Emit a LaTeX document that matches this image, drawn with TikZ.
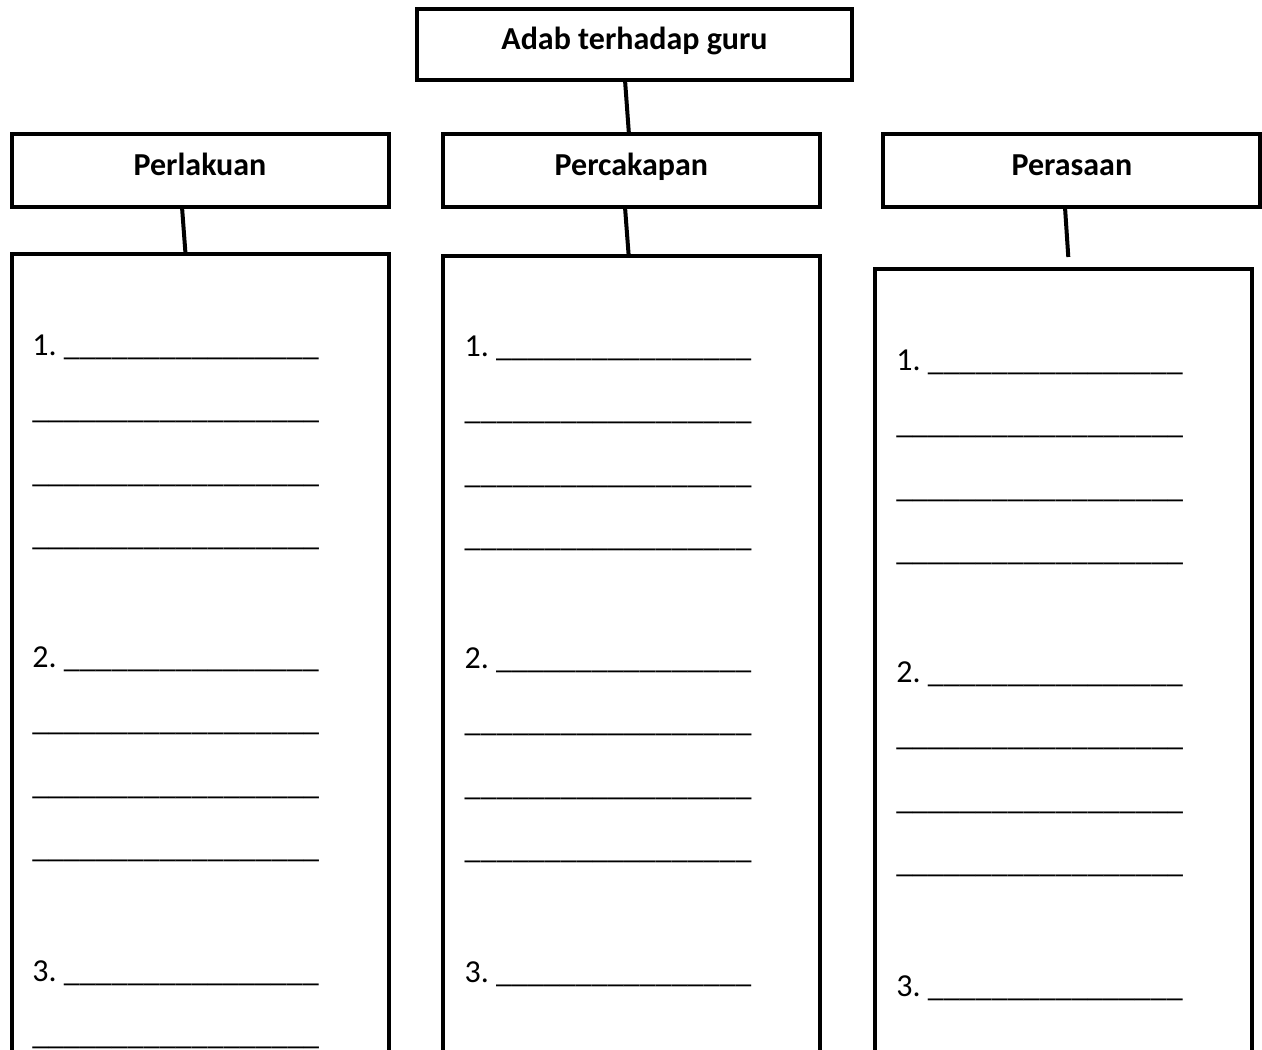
\documentclass[tikz,border=0pt]{standalone}
\usepackage{fontspec}
\setmainfont{Carlito}
\begin{document}
\begin{tikzpicture}[x=1pt,y=-1pt,
  box/.style={draw, line width=4pt, outer sep=0pt, inner sep=0pt},
  head/.style={box, minimum width=377pt, minimum height=73.5pt,
    font=\fontsize{32}{38}\selectfont\bfseries, text height=20pt, text depth=10pt},
  listbox/.style={box, minimum width=377pt, minimum height=1000pt},
  entry/.style={anchor=base west, inner sep=0pt, outer sep=0pt,
    font=\fontsize{32}{38}\selectfont},
  link/.style={line width=4pt}]
\useasboundingbox (0,0) rectangle (1262,1050);
\clip (0,0) rectangle (1262,1050);

% title
\node[box, minimum width=435pt, minimum height=71.3pt,
  font=\fontsize{32}{38}\selectfont\bfseries, text height=20pt, text depth=10pt]
  (top) at (634.5,44.3) {Adab terhadap guru};

% headers
\node[head] (hL) at (200,170.25) {Perlakuan};
\node[head] (hM) at (631.4,170.25) {Percakapan};
\node[head] (hR) at (1071.9,170.4) {Perasaan};

% list boxes
\node[listbox] (lL) at (200,753.7) {};
\node[listbox] (lM) at (631.4,756) {};
\node[listbox] (lR) at (1063.7,768.7) {};

% connectors
\coordinate (rEnd) at (1068.3,257);
\draw[link] ([xshift=-9.5pt]top.south) -- ([xshift=-2.5pt]hM.north);
\draw[link] ([xshift=-18pt]hL.south) -- ([xshift=-14.5pt]lL.north);
\draw[link] ([xshift=-6.4pt]hM.south) -- ([xshift=-2.7pt]lM.north);
\draw[link] ([xshift=-6.9pt]hR.south) -- (rEnd);

% entries
\def\numline#1{#1.\ \_\_\_\_\_\_\_\_\_\_\_\_\_\_\_\_}
\def\plainline{\_\_\_\_\_\_\_\_\_\_\_\_\_\_\_\_\_\_}
\foreach \col/\x/\dy in {L/32.3/0, M/464.7/1, R/896.3/15} {
  \node[entry] (\col n1) at (\x,355+\dy) {\numline{1}};
  \node[entry] (\col a1) at (\x,418.5+\dy) {\plainline};
  \node[entry] (\col b1) at (\x,482+\dy) {\plainline};
  \node[entry] (\col c1) at (\x,545.5+\dy) {\plainline};
  \node[entry] (\col n2) at (\x,667+\dy) {\numline{2}};
  \node[entry] (\col a2) at (\x,730.5+\dy) {\plainline};
  \node[entry] (\col b2) at (\x,794+\dy) {\plainline};
  \node[entry] (\col c2) at (\x,857.5+\dy) {\plainline};
  \node[entry] (\col n3) at (\x,981+\dy) {\numline{3}};
}
\node[entry] (La3) at (32.3,1044) {\plainline};
\end{tikzpicture}
\end{document}
